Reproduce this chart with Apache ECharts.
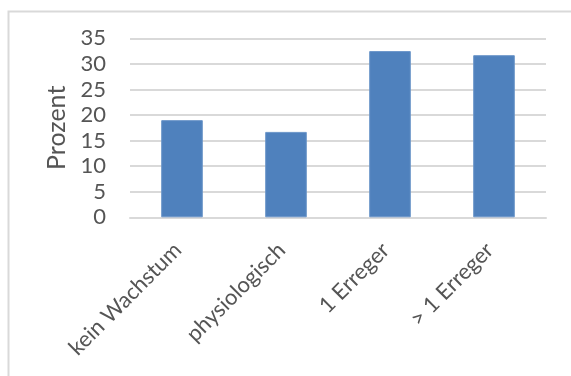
<!DOCTYPE html>
<html>
<head>
<meta charset="utf-8">
<script src="https://cdn.jsdelivr.net/npm/echarts@6/dist/echarts.min.js"></script>
<style>
  html, body { margin: 0; padding: 0; background: #ffffff; }
  #chart { width: 571px; height: 376px; }
</style>
</head>
<body>
<div id="chart"></div>
<script>
// Befundkategorien und Anteile in Prozent
const categories = ['kein Wachstum', 'physiologisch', '1 Erreger', '> 1 Erreger'];
const prozent = [19.0, 16.7, 32.5, 31.7];
const yTicks = [0, 5, 10, 15, 20, 25, 30, 35];

const textColor = '#555555';
const gridColor = '#d9d9d9';
const fontFamily = 'Lato, "Open Sans", sans-serif';

const chart = echarts.init(document.getElementById('chart'), null, { renderer: 'canvas' });

chart.setOption({
  animation: false,
  backgroundColor: '#ffffff',
  graphic: [{
    // Rahmen des Diagrammbereichs
    type: 'rect',
    left: 6, top: 9,
    shape: { x: 0, y: 0, width: 700, height: 500 },
    style: { fill: 'none', stroke: gridColor, lineWidth: 2 },
    silent: true,
    z: -1
  }],
  grid: { left: 130, right: 25, top: 38.3, bottom: 158.7, containLabel: false },
  xAxis: {
    type: 'category',
    data: categories,
    axisLine: { show: true, lineStyle: { color: gridColor, width: 2 } },
    axisTick: { show: false },
    axisLabel: {
      rotate: 45,
      interval: 0,
      margin: 25,
      padding: [0, 6, 0, 0],
      color: textColor,
      fontFamily: fontFamily,
      fontSize: 22
    }
  },
  yAxis: {
    type: 'value',
    min: yTicks[0],
    max: yTicks[yTicks.length - 1],
    interval: yTicks[1] - yTicks[0],
    name: 'Prozent',
    nameLocation: 'middle',
    nameGap: 61,
    nameRotate: 90,
    nameTextStyle: { color: textColor, fontFamily: fontFamily, fontSize: 25 },
    axisLine: { show: false },
    axisTick: { show: false },
    splitLine: { show: true, lineStyle: { color: gridColor, width: 2 } },
    axisLabel: {
      margin: 24,
      color: textColor,
      fontFamily: fontFamily,
      fontSize: 22
    }
  },
  series: [{
    type: 'bar',
    data: prozent,
    barWidth: '40%',
    itemStyle: { color: '#4f81bd', borderColor: '#6b95c9', borderWidth: 1 }
  }]
});
</script>
</body>
</html>
